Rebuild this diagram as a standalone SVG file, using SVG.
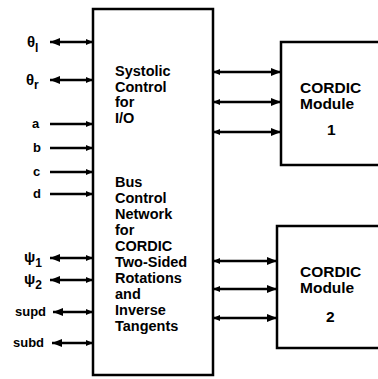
<svg xmlns="http://www.w3.org/2000/svg" width="378" height="379" viewBox="0 0 378 379">
<style>
.box{fill:#fff;stroke:#000;stroke-width:2.5}
.ln{stroke:#000;stroke-width:2.5;fill:none}
.t{font-family:"Liberation Sans",Arial,sans-serif;font-weight:bold;fill:#000}
.in{font-size:14.5px}
.mod{font-size:15.5px}
.lab{font-size:13px}
.gr{font-size:15px}
</style>
<defs>
<marker id="ah" markerUnits="userSpaceOnUse" markerWidth="10" markerHeight="8" refX="10" refY="4" orient="auto-start-reverse"><path d="M0,0 L10,4 L0,8 z" fill="#000"/></marker>
<marker id="sh" markerUnits="userSpaceOnUse" markerWidth="7" markerHeight="6" refX="7" refY="3" orient="auto-start-reverse"><path d="M0,0 L7,3 L0,6 z" fill="#000"/></marker>
</defs>
<rect width="378" height="379" fill="#fff"/>
<g id="connectors">
<line class="ln" x1="50" y1="42" x2="93" y2="42" marker-start="url(#ah)" marker-end="url(#sh)"/>
<line class="ln" x1="50" y1="80" x2="93" y2="80" marker-start="url(#ah)" marker-end="url(#sh)"/>
<line class="ln" x1="50" y1="124" x2="93" y2="124" marker-end="url(#sh)"/>
<line class="ln" x1="50" y1="148" x2="93" y2="148" marker-end="url(#sh)"/>
<line class="ln" x1="50" y1="172" x2="93" y2="172" marker-end="url(#sh)"/>
<line class="ln" x1="50" y1="194" x2="93" y2="194" marker-end="url(#sh)"/>
<line class="ln" x1="50" y1="258" x2="93" y2="258" marker-start="url(#ah)" marker-end="url(#sh)"/>
<line class="ln" x1="50" y1="280" x2="93" y2="280" marker-start="url(#ah)" marker-end="url(#sh)"/>
<line class="ln" x1="53" y1="312" x2="93" y2="312" marker-start="url(#ah)" marker-end="url(#sh)"/>
<line class="ln" x1="52" y1="343" x2="93" y2="343" marker-start="url(#ah)" marker-end="url(#sh)"/>
<line class="ln" x1="213" y1="72" x2="281" y2="72" marker-start="url(#sh)" marker-end="url(#ah)"/>
<line class="ln" x1="213" y1="102" x2="281" y2="102" marker-start="url(#sh)" marker-end="url(#ah)"/>
<line class="ln" x1="213" y1="132" x2="281" y2="132" marker-start="url(#sh)" marker-end="url(#ah)"/>
<line class="ln" x1="213" y1="261" x2="277" y2="261" marker-start="url(#sh)" marker-end="url(#ah)"/>
<line class="ln" x1="213" y1="289" x2="277" y2="289" marker-start="url(#sh)" marker-end="url(#ah)"/>
<line class="ln" x1="213" y1="318" x2="277" y2="318" marker-start="url(#sh)" marker-end="url(#ah)"/>
</g>
<g id="labels" class="t lab">
<text class="gr" x="27" y="47">θ<tspan font-size="12" dy="5">l</tspan></text>
<text class="gr" x="26" y="85">θ<tspan font-size="12" dy="4">r</tspan></text>
<text x="32" y="128">a</text>
<text x="33" y="152">b</text>
<text x="33" y="176">c</text>
<text x="33" y="198">d</text>
<text class="gr" x="24" y="262">ψ<tspan font-size="12" dy="5">1</tspan></text>
<text class="gr" x="24" y="284">ψ<tspan font-size="12" dy="5">2</tspan></text>
<text x="15" y="316">supd</text>
<text x="13" y="347">subd</text>
</g>
<g id="main">
<rect class="box" x="93" y="9" width="120" height="366"/>
<g class="t in">
<text x="115" y="76">Systolic</text>
<text x="115" y="91.5">Control</text>
<text x="115" y="107">for</text>
<text x="115" y="122.5">I/O</text>
<text x="115" y="187">Bus</text>
<text x="115" y="203">Control</text>
<text x="115" y="219">Network</text>
<text x="115" y="235">for</text>
<text x="115" y="251">CORDIC</text>
<text x="115" y="267">Two-Sided</text>
<text x="115" y="283">Rotations</text>
<text x="115" y="299">and</text>
<text x="115" y="315">Inverse</text>
<text x="115" y="331">Tangents</text>
</g>
</g>
<g id="cordic1">
<rect class="box" x="281" y="42" width="110" height="123"/>
<g class="t mod">
<text x="300" y="93">CORDIC</text>
<text x="300" y="109">Module</text>
<text x="327" y="135">1</text>
</g>
</g>
<g id="cordic2">
<rect class="box" x="277" y="226" width="114" height="122"/>
<g class="t mod">
<text x="300" y="277">CORDIC</text>
<text x="300" y="293">Module</text>
<text x="326" y="322">2</text>
</g>
</g>
</svg>
